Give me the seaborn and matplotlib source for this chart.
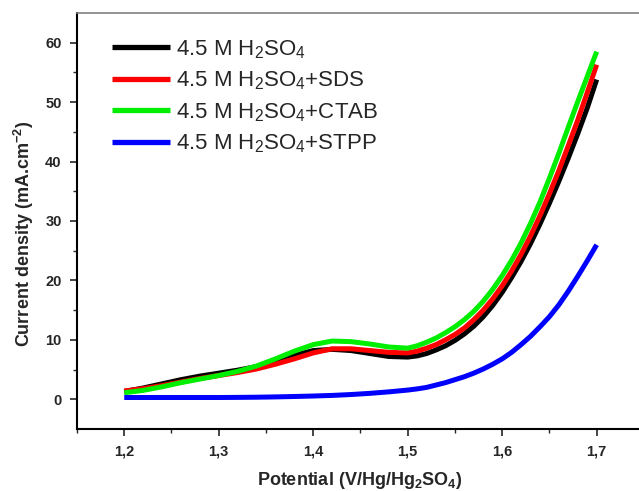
import numpy as np
import pandas as pd
import matplotlib
matplotlib.use("Agg")
import matplotlib.pyplot as plt
from matplotlib.ticker import MultipleLocator, FixedLocator, FixedFormatter
import seaborn as sns

potential = [1.20, 1.22, 1.24, 1.26, 1.28, 1.30, 1.32, 1.34, 1.36, 1.38, 1.40, 1.42,
             1.44, 1.46, 1.48, 1.50, 1.51, 1.52, 1.53, 1.54, 1.55, 1.56, 1.57, 1.58,
             1.59, 1.60, 1.61, 1.62, 1.63, 1.64, 1.65, 1.66, 1.67, 1.68, 1.69, 1.70]
h2so4 = [1.3, 1.9, 2.6, 3.3, 3.9, 4.4, 4.9, 5.5, 6.4, 7.4, 8.2, 8.4,
         8.2, 7.7, 7.2, 7.1, 7.3, 7.7, 8.3, 9.0, 9.9, 11.0, 12.3, 13.9,
         15.8, 18.0, 20.5, 23.2, 26.2, 29.5, 33.0, 36.7, 40.6, 44.7, 49.0, 53.8]
sds = [1.4, 1.8, 2.3, 2.9, 3.5, 4.0, 4.5, 5.1, 5.9, 6.8, 7.8, 8.5,
       8.5, 8.2, 7.9, 7.8, 8.1, 8.6, 9.2, 10.0, 10.9, 12.0, 13.4, 15.0,
       16.9, 19.1, 21.6, 24.4, 27.5, 30.9, 34.6, 38.5, 42.7, 47.0, 51.6, 56.3]
ctab = [1.1, 1.5, 2.1, 2.8, 3.4, 4.0, 4.7, 5.6, 6.8, 8.1, 9.2, 9.8,
        9.7, 9.3, 8.8, 8.6, 9.0, 9.6, 10.3, 11.2, 12.2, 13.4, 14.8, 16.5,
        18.5, 20.8, 23.4, 26.3, 29.6, 33.2, 37.2, 41.4, 45.8, 50.1, 54.3, 58.5]
stpp = [0.3, 0.3, 0.3, 0.3, 0.3, 0.3, 0.32, 0.35, 0.4, 0.47, 0.55, 0.65,
        0.8, 1.0, 1.25, 1.55, 1.75, 2.0, 2.4, 2.8, 3.3, 3.8, 4.4, 5.1,
        5.9, 6.8, 7.9, 9.2, 10.6, 12.2, 13.9, 15.9, 18.2, 20.7, 23.3, 26.0]

labels = [r"4.5 M H$\mathregular{_2}$SO$\mathregular{_4}$",
          r"4.5 M H$\mathregular{_2}$SO$\mathregular{_4}$+SDS",
          r"4.5 M H$\mathregular{_2}$SO$\mathregular{_4}$+CTAB",
          r"4.5 M H$\mathregular{_2}$SO$\mathregular{_4}$+STPP"]
colors = ["#000000", "#ff0000", "#00ee00", "#0000ff"]
xtick_vals = [1.2, 1.3, 1.4, 1.5, 1.6, 1.7]
xtick_labels = ["1,2", "1,3", "1,4", "1,5", "1,6", "1,7"]
ytick_vals = [0, 10, 20, 30, 40, 50, 60]

frames = []
for lab, ys in zip(labels, [h2so4, sds, ctab, stpp]):
    frames.append(pd.DataFrame({"Potential": potential, "Current": ys, "Series": lab}))
df = pd.concat(frames, ignore_index=True)

sns.set_style("white")
plt.rcParams["font.family"] = ["Liberation Sans", "DejaVu Sans"]
plt.rcParams["mathtext.fontset"] = "custom"
plt.rcParams["mathtext.rm"] = "Liberation Sans"
plt.rcParams["mathtext.bf"] = "Liberation Sans:bold"

fig = plt.figure(figsize=(6.39, 4.91), dpi=100)
ax = fig.add_axes([77/639, 1-429/491, 1-77/639+0.004, (429-13)/491])

sns.lineplot(data=df, x="Potential", y="Current", hue="Series", palette=colors,
             hue_order=labels, linewidth=3.6, ax=ax, sort=False)
for ln in ax.get_lines():
    ln.set_solid_joinstyle("round")
    ln.set_solid_capstyle("butt")

ax.set_xlim(1.15, 1.7475)
ax.set_ylim(-5, 65)
ax.xaxis.set_major_locator(FixedLocator(xtick_vals))
ax.xaxis.set_major_formatter(FixedFormatter(xtick_labels))
ax.xaxis.set_minor_locator(MultipleLocator(0.05))
ax.yaxis.set_major_locator(FixedLocator(ytick_vals))
ax.yaxis.set_minor_locator(FixedLocator([5, 15, 25, 35, 45, 55]))
ax.tick_params(axis="both", which="major", direction="out", length=5, width=1.2,
               labelsize=10.5, bottom=True, left=True, pad=6)
ax.tick_params(axis="both", which="minor", direction="out", length=3, width=1.0,
               bottom=True, left=True)
for t in ax.get_xticklabels() + ax.get_yticklabels():
    t.set_fontweight("bold")

for s in ["left", "bottom"]:
    ax.spines[s].set_color("black")
    ax.spines[s].set_linewidth(1.5)
ax.spines["top"].set_color("#808080")
ax.spines["top"].set_linewidth(1.2)
ax.spines["right"].set_visible(False)

ax.set_xlabel(r"Potential (V/Hg/Hg$\mathbf{_2}$SO$\mathbf{_4}$)", fontsize=13,
              fontweight="bold")
ax.xaxis.set_label_coords(0.5, -0.098)
ax.set_ylabel(r"Current density (mA.cm$\mathbf{^{-2}}$)", fontsize=13,
              fontweight="bold")
ax.yaxis.set_label_coords(-0.072, 0.47)

leg = ax.legend(loc="upper left", bbox_to_anchor=(0.062, 0.94), frameon=False,
                fontsize=16, handlelength=2.6, handletextpad=0.28,
                labelspacing=0.4, borderaxespad=0, borderpad=0)
for line in leg.get_lines():
    line.set_linewidth(3.8)

fig.savefig("out.png", dpi=100)
